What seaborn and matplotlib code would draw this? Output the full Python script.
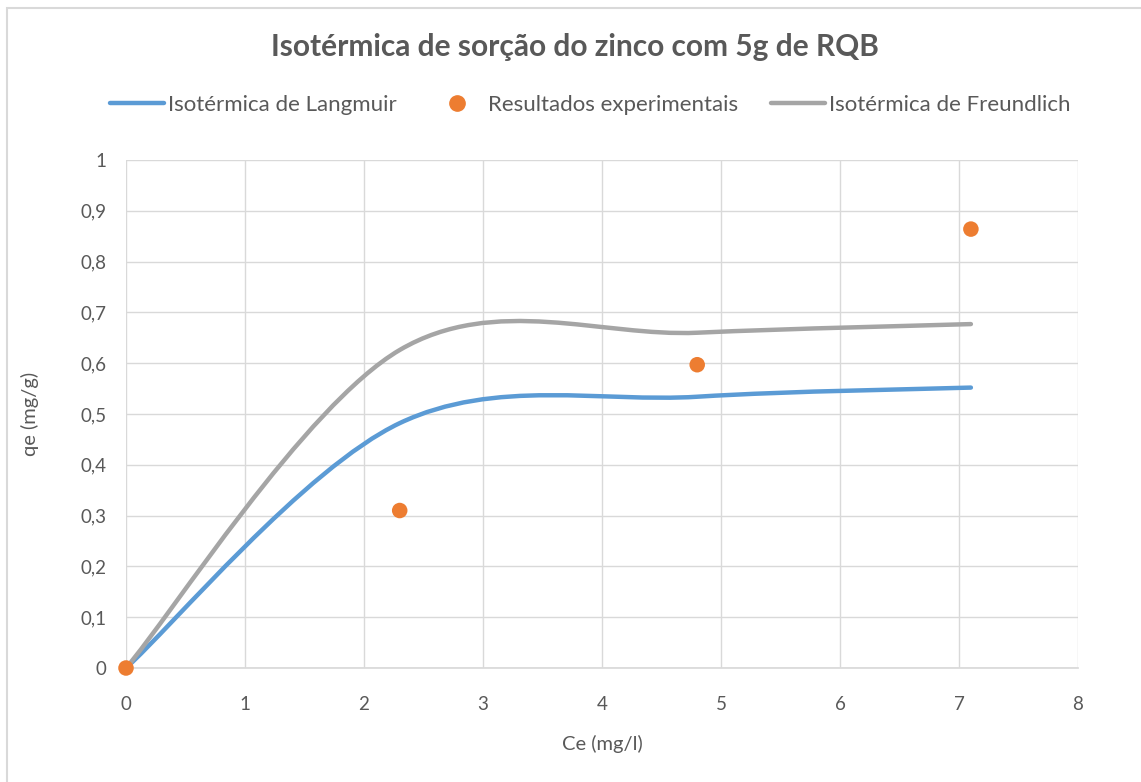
import numpy as np
import pandas as pd
import matplotlib
matplotlib.use("Agg")
import matplotlib.pyplot as plt
from matplotlib.path import Path
from matplotlib.patches import PathPatch, Rectangle
from matplotlib.lines import Line2D
import seaborn as sns

# values
ce = [0, 2.3, 4.8, 7.1]
qe_experimental = [0, 0.31, 0.597, 0.864]
qe_langmuir = [0, 0.482, 0.534, 0.552]
qe_freundlich = [0, 0.626, 0.660, 0.677]

x_ticks = [0, 1, 2, 3, 4, 5, 6, 7, 8]
y_ticks = [0, 0.1, 0.2, 0.3, 0.4, 0.5, 0.6, 0.7, 0.8, 0.9, 1.0]
y_tick_labels = ["0", "0,1", "0,2", "0,3", "0,4", "0,5", "0,6", "0,7", "0,8", "0,9", "1"]

labels = ["Isotérmica de Langmuir", "Resultados experimentais", "Isotérmica de Freundlich"]
colors = {"langmuir": "#5B9BD5", "exp": "#ED7D31", "freundlich": "#A5A5A5"}
text_color = "#595959"
grid_color = "#D9D9D9"

sns.set_theme(style="whitegrid")
plt.rcParams["font.family"] = ["Lato", "DejaVu Sans"]


def smooth_path(x, y):
    """Excel-style smoothed line: cubic Bezier segments through the points"""
    pts = np.column_stack([x, y]).astype(float)
    n = len(pts)
    verts = [pts[0]]
    codes = [Path.MOVETO]
    for i in range(n - 1):
        p_prev = pts[max(i - 1, 0)]
        p0 = pts[i]
        p1 = pts[i + 1]
        p_next = pts[min(i + 2, n - 1)]
        verts += [p0 + (p1 - p_prev) / 6, p1 - (p_next - p0) / 6, p1]
        codes += [Path.CURVE4] * 3
    return Path(verts, codes)


fig = plt.figure(figsize=(11.41, 7.82), dpi=100)
ax = fig.add_axes([126 / 1141, 114 / 782, 952 / 1141, 508 / 782])

lw = 3.2
ax.add_patch(PathPatch(smooth_path(ce, qe_langmuir), facecolor="none",
                       edgecolor=colors["langmuir"], lw=lw, capstyle="round", zorder=2))
ax.add_patch(PathPatch(smooth_path(ce, qe_freundlich), facecolor="none",
                       edgecolor=colors["freundlich"], lw=lw, capstyle="round", zorder=2))

df = pd.DataFrame({"Ce": ce, "qe": qe_experimental})
sns.scatterplot(data=df, x="Ce", y="qe", ax=ax, color=colors["exp"], s=125,
                edgecolor="none", zorder=3, clip_on=False)

ax.set_xlim(0, 8)
ax.set_ylim(0, 1)
ax.set_xticks(x_ticks)
ax.set_xticklabels([str(t) for t in x_ticks])
ax.set_yticks(y_ticks)
ax.set_yticklabels(y_tick_labels)
ax.tick_params(axis="both", length=0, labelsize=13.5, labelcolor=text_color)
ax.tick_params(axis="x", pad=20)
ax.tick_params(axis="y", pad=14)
ax.grid(True, color=grid_color, lw=1)
for side in ["top", "right", "left"]:
    ax.spines[side].set_visible(False)
ax.spines["bottom"].set_color(grid_color)
ax.set_axisbelow(True)

ax.set_xlabel("Ce (mg/l)", fontsize=14.5, color=text_color, labelpad=16)
ax.set_ylabel("qe (mg/g)", fontsize=14.5, color=text_color, labelpad=30)

fig.suptitle("Isotérmica de sorção do zinco com 5g de RQB", x=0.5 + 4 / 1141, y=1 - 47 / 782,
             va="center", fontsize=21.5, fontweight="bold", color=text_color)

handles = [
    Line2D([], [], color=colors["langmuir"], lw=lw, solid_capstyle="round"),
    Line2D([], [], color=colors["exp"], lw=0, marker="o", markersize=11),
    Line2D([], [], color=colors["freundlich"], lw=lw, solid_capstyle="round"),
]
leg = fig.legend(handles, labels, loc="center",
                 bbox_to_anchor=(0.5 + 20 / 1141, 1 - 105 / 782),
                 ncol=3, frameon=False, fontsize=16, handlelength=2.4,
                 handletextpad=0.2, columnspacing=1.5)
for t in leg.get_texts():
    t.set_color(text_color)

# outer chart border like in the spreadsheet
fig.patches.append(Rectangle((7 / 1141, -0.02), 1.05, 1 - 8 / 782 + 0.02,
                             transform=fig.transFigure, fill=False,
                             edgecolor=grid_color, lw=1.5))

fig.savefig("out.png", dpi=100)
